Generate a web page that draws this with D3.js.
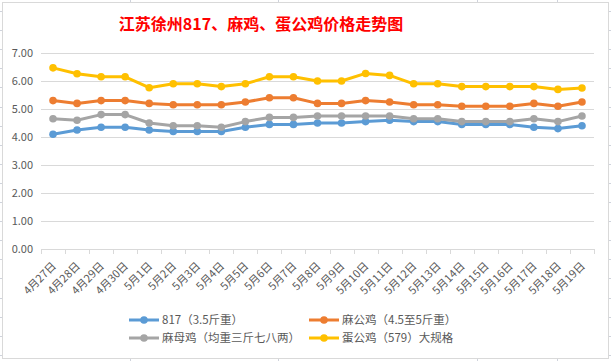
<!DOCTYPE html>
<html>
<head>
<meta charset="utf-8">
<script src="https://cdn.jsdelivr.net/npm/d3@7"></script>
<style>
  html, body { margin: 0; padding: 0; background: #ffffff; }
  svg { display: block; }
  text { font-family: "Noto Sans CJK SC", "Noto Sans", sans-serif; }
</style>
</head>
<body>
<svg id="chart" width="611" height="361"></svg>
<script>
// ---------- data ----------
const title = "江苏徐州817、麻鸡、蛋公鸡价格走势图";
const categories = ["4月27日","4月28日","4月29日","4月30日","5月1日","5月2日","5月3日","5月4日","5月5日","5月6日","5月7日","5月8日","5月9日","5月10日","5月11日","5月12日","5月13日","5月14日","5月15日","5月16日","5月17日","5月18日","5月19日"];
const seriesNames = ["817（3.5斤重）","麻公鸡（4.5至5斤重）","麻母鸡（均重三斤七八两）","蛋公鸡（579）大规格"];
const values817   = [4.10,4.25,4.35,4.35,4.25,4.20,4.20,4.20,4.35,4.45,4.45,4.50,4.50,4.55,4.60,4.55,4.55,4.45,4.45,4.45,4.35,4.30,4.40];
const valuesMaGong = [5.30,5.20,5.30,5.30,5.20,5.15,5.15,5.15,5.25,5.40,5.40,5.20,5.20,5.30,5.25,5.15,5.15,5.10,5.10,5.10,5.20,5.10,5.25];
const valuesMaMu  = [4.65,4.60,4.80,4.80,4.50,4.40,4.40,4.35,4.55,4.70,4.70,4.75,4.75,4.75,4.75,4.65,4.65,4.55,4.55,4.55,4.65,4.55,4.75];
const valuesDanGong = [6.47,6.26,6.15,6.15,5.76,5.90,5.90,5.80,5.90,6.15,6.15,6.00,6.00,6.27,6.20,5.90,5.90,5.80,5.80,5.80,5.80,5.70,5.75];
const yTicks = [0,1,2,3,4,5,6,7];
const colors = ["#5B9BD5","#ED7D31","#A5A5A5","#FFC000"];

const series = [
  {name: seriesNames[0], values: values817, color: colors[0]},
  {name: seriesNames[1], values: valuesMaGong, color: colors[1]},
  {name: seriesNames[2], values: valuesMaMu, color: colors[2]},
  {name: seriesNames[3], values: valuesDanGong, color: colors[3]}
];

const svg = d3.select("#chart");
const W = 611, H = 361;

// ---------- spreadsheet background ----------
const sheet = svg.append("g");
sheet.selectAll("line.row").data(d3.range(11, H, 19.1)).join("line")
  .attr("x1", 0).attr("x2", W).attr("y1", d => Math.round(d) + 0.5).attr("y2", d => Math.round(d) + 0.5)
  .attr("stroke", "#cfd3dc").attr("stroke-width", 1);
sheet.selectAll("line.col").data([130, 278, 477, 557]).join("line")
  .attr("x1", d => d + 0.5).attr("x2", d => d + 0.5).attr("y1", 0).attr("y2", H)
  .attr("stroke", "#cfd3dc").attr("stroke-width", 1);

// chart area box
svg.append("rect")
  .attr("x", 2.5).attr("y", 2.5).attr("width", 606).attr("height", 356)
  .attr("fill", "#ffffff").attr("stroke", "#d9d9d9").attr("stroke-width", 1);

// ---------- scales ----------
const plot = {left: 41, right: 594, top: 53, bottom: 249};
const x = d3.scaleBand().domain(categories).range([plot.left, plot.right]).padding(0);
const y = d3.scaleLinear().domain([0, 7]).range([plot.bottom, plot.top]);
const cx = d => x(d) + x.bandwidth() / 2;

// ---------- title ----------
svg.append("text")
  .attr("x", 261).attr("y", 30)
  .attr("text-anchor", "middle")
  .attr("fill", "#FF0000")
  .attr("font-size", 16)
  .attr("font-weight", "bold")
  .text(title);

// ---------- y axis + gridlines ----------
const yAxis = d3.axisLeft(y).tickValues(yTicks).tickFormat(d3.format(".2f"))
  .tickSize(-(plot.right - plot.left)).tickPadding(8);
const gy = svg.append("g").attr("transform", `translate(${plot.left},0)`).call(yAxis);
gy.select(".domain").remove();
gy.selectAll(".tick line").attr("stroke", "#d9d9d9").attr("stroke-width", 1);
gy.selectAll(".tick text").attr("fill", "#595959").attr("font-size", 11)
  .attr("font-family", "'Noto Sans CJK SC', sans-serif");

// ---------- x axis ----------
const gx = svg.append("g");
gx.append("line")
  .attr("x1", plot.left).attr("x2", plot.right)
  .attr("y1", y(0) + 0.5).attr("y2", y(0) + 0.5)
  .attr("stroke", "#d9d9d9").attr("stroke-width", 1);
const boundaries = categories.map(c => x(c)).concat([x.range()[1]]);
gx.selectAll("line.tick").data(boundaries).join("line")
  .attr("class", "tick")
  .attr("x1", d => Math.round(d) + 0.5).attr("x2", d => Math.round(d) + 0.5)
  .attr("y1", y(0)).attr("y2", y(0) + 5)
  .attr("stroke", "#d9d9d9").attr("stroke-width", 1);
gx.selectAll("text").data(categories).join("text")
  .attr("transform", d => `translate(${cx(d) + 1},${y(0) + 15}) rotate(-45)`)
  .attr("text-anchor", "end")
  .attr("dy", "0.35em")
  .attr("fill", "#595959")
  .attr("font-size", 11)
  .text(d => d);

// ---------- lines ----------
const line = d3.line().x((v, i) => cx(categories[i])).y(v => y(v));
const gs = svg.append("g");
series.forEach(s => {
  const g = gs.append("g");
  g.append("path").datum(s.values)
    .attr("d", line)
    .attr("fill", "none")
    .attr("stroke", s.color)
    .attr("stroke-width", 3)
    .attr("stroke-linejoin", "round")
    .attr("stroke-linecap", "round");
  g.selectAll("circle").data(s.values).join("circle")
    .attr("cx", (v, i) => cx(categories[i]))
    .attr("cy", v => y(v))
    .attr("r", 3.8)
    .attr("fill", s.color);
});

// ---------- legend ----------
const legendPos = [[129, 320], [309, 320], [129, 338], [309, 338]];
const lg = svg.append("g");
series.forEach((s, i) => {
  const [lx, ly] = legendPos[i];
  const g = lg.append("g").attr("transform", `translate(${lx},${ly})`);
  g.append("line").attr("x1", 0).attr("x2", 30).attr("y1", 0).attr("y2", 0)
    .attr("stroke", s.color).attr("stroke-width", 3);
  g.append("circle").attr("cx", 15).attr("cy", 0).attr("r", 3.8).attr("fill", s.color);
  g.append("text").attr("x", 33).attr("y", 0).attr("dy", "0.36em")
    .attr("fill", "#595959").attr("font-size", 11.5)
    .text(s.name);
});
</script>
</body>
</html>
